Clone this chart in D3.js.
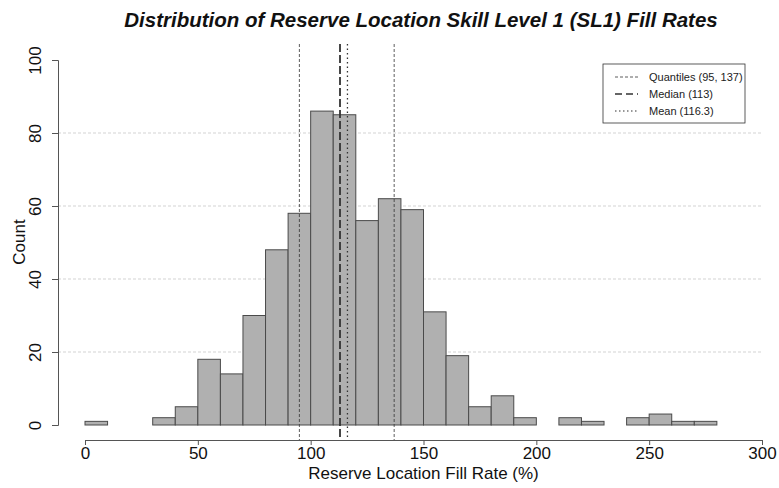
<!DOCTYPE html>
<html><head><meta charset="utf-8">
<script src="https://cdn.jsdelivr.net/npm/d3@7"></script>
<style>body{margin:0;background:#fff}text{font-family:"Liberation Sans",Arial,sans-serif}</style>
</head><body>
<svg id="c" width="779" height="488"></svg>
<script>
const binStarts = [0,10,20,30,40,50,60,70,80,90,100,110,120,130,140,150,160,170,180,190,200,210,220,230,240,250,260,270];
const counts =    [1,0,0,2,5,18,14,30,48,58,86,85,56,62,59,31,19,5,8,2,0,2,1,0,2,3,1,1];
const binWidth = 10;
const xTicks = [0,50,100,150,200,250,300];
const yTicks = [0,20,40,60,80,100];
const gridTicks = [20,40,60,80];
const quantiles = [95,137];
const median = 113;
const mean = 116.3;
const legendItems = [
  {label:"Quantiles (95, 137)", dash:"3,2", w:0.8},
  {label:"Median (113)", dash:"7,4", w:1.6},
  {label:"Mean (116.3)", dash:"1.5,2.5", w:1.2}
];

const svg = d3.select("#c");
const x = d3.scaleLinear().domain([0,300]).range([85,762]);
const y = d3.scaleLinear().domain([0,100]).range([425,60]);
const fontF = "Liberation Sans, Arial, sans-serif";

// grid
svg.append("g").selectAll("line").data(gridTicks).join("line")
  .attr("x1",58).attr("x2",762).attr("y1",d=>y(d)).attr("y2",d=>y(d))
  .attr("stroke","#c8c8c8").attr("stroke-width",0.8).attr("stroke-dasharray","3,2");

// bars
svg.append("g").selectAll("rect").data(binStarts.map((s,i)=>({s,c:counts[i]})).filter(d=>d.c>0)).join("rect")
  .attr("x",d=>x(d.s)).attr("width",d=>x(d.s+binWidth)-x(d.s))
  .attr("y",d=>y(d.c)).attr("height",d=>y(0)-y(d.c))
  .attr("fill","#b0b0b0").attr("stroke","#4a4a4a").attr("stroke-width",1);

// reference lines
const lineTop = 44, lineBot = 440;
svg.append("g").selectAll("line").data(quantiles).join("line")
  .attr("x1",d=>x(d)).attr("x2",d=>x(d)).attr("y1",lineTop).attr("y2",lineBot)
  .attr("stroke","#333").attr("stroke-width",0.8).attr("stroke-dasharray","3,2");
svg.append("line").attr("x1",x(median)).attr("x2",x(median)).attr("y1",lineTop).attr("y2",lineBot)
  .attr("stroke","#333").attr("stroke-width",1.8).attr("stroke-dasharray","8,3");
svg.append("line").attr("x1",x(mean)).attr("x2",x(mean)).attr("y1",lineTop).attr("y2",lineBot)
  .attr("stroke","#333").attr("stroke-width",1.3).attr("stroke-dasharray","1.5,3");

// x axis
const xa = svg.append("g").attr("transform","translate(0,440)")
  .call(d3.axisBottom(x).tickValues(xTicks).tickSize(5).tickPadding(2));
xa.select(".domain").attr("stroke","#555");
xa.selectAll(".tick line").attr("stroke","#555");
xa.selectAll("text").attr("font-size",17).attr("fill","#111").attr("font-family",fontF);

// y axis
const ya = svg.append("g").attr("transform","translate(58,0)")
  .call(d3.axisLeft(y).tickValues(yTicks).tickSize(6));
ya.select(".domain").attr("stroke","#555");
ya.selectAll(".tick line").attr("stroke","#555");
ya.selectAll("text").attr("font-size",17).attr("fill","#111").attr("font-family",fontF)
  .attr("text-anchor","middle").attr("transform","rotate(-90)")
  .attr("x",0).attr("y",-17).attr("dy",0);

// axis titles
svg.append("text").attr("x",x(150)).attr("y",479).attr("text-anchor","middle")
  .attr("font-size",17).attr("fill","#111").text("Reserve Location Fill Rate (%)");
svg.append("text").attr("transform","translate(25,242) rotate(-90)").attr("text-anchor","middle")
  .attr("font-size",17).attr("fill","#111").text("Count");

// title
svg.append("text").attr("x",421).attr("y",27).attr("text-anchor","middle")
  .attr("font-size",20.5).attr("font-weight","bold").attr("font-style","italic").attr("fill","#111")
  .text("Distribution of Reserve Location Skill Level 1 (SL1) Fill Rates");

// legend
const lg = svg.append("g").attr("transform","translate(603,64)");
lg.append("rect").attr("width",142).attr("height",59).attr("fill","#fff").attr("stroke","#333").attr("stroke-width",0.8);
legendItems.forEach((it,i)=>{
  const yy = 13 + i*17;
  lg.append("line").attr("x1",12).attr("x2",35).attr("y1",yy).attr("y2",yy)
    .attr("stroke","#333").attr("stroke-width",it.w).attr("stroke-dasharray",it.dash);
  lg.append("text").attr("x",46).attr("y",yy).attr("dy","0.35em").attr("font-size",11).attr("fill","#222").text(it.label);
});
</script>
</body></html>
